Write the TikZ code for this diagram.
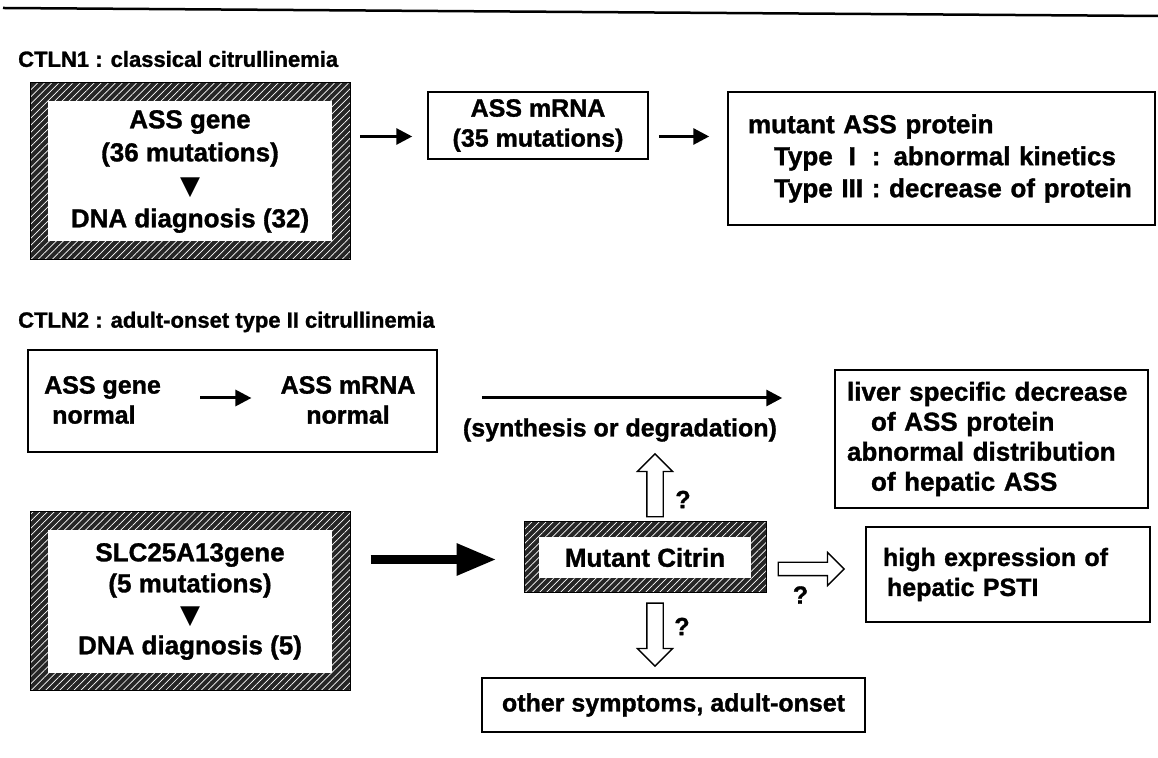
\documentclass[tikz,border=0pt]{standalone}
\usepackage{fontspec}
\setmainfont{Liberation Sans}[BoldFeatures={FakeBold=1.2}]
\newfontfamily\symfont{DejaVu Sans}
\usetikzlibrary{arrows.meta,calc,patterns.meta,shapes.arrows,positioning}

\newcommand{\bigtxt}{\bfseries\fontsize{26}{33}\selectfont}
\newcommand{\midtxt}{\bfseries\fontsize{25}{30}\selectfont}

\tikzset{
  txt/.style={font=\midtxt, inner sep=0pt},
  ttl/.style={font=\bfseries\fontsize{22}{26}\selectfont, inner sep=0pt, anchor=west},
  plainbox/.style={draw, line width=1.5pt, font=\midtxt},
  hatchframe/.style={draw=black, line width=1pt, inner sep=0pt,
    preaction={fill=black!85},
    pattern={Lines[angle=45,distance=5pt,line width=0.7pt]}, pattern color=white},
  innerbox/.style={fill=white, inner sep=0pt, align=center, font=\bigtxt},
  arr/.style={line width=3pt, -{Triangle[length=16pt,width=16pt]}},
  fatarr/.style={line width=9pt, -{Triangle[length=40pt,width=30pt]}},
  hollow/.style={single arrow, draw, line width=1.3pt, fill=white, inner sep=7.5pt,
    single arrow head extend=9.5pt, minimum height=63pt},
  qmark/.style={font=\midtxt, inner sep=0pt}
}

\begin{document}
\begin{tikzpicture}[x=1pt,y=1pt]
\useasboundingbox (0,0) rectangle (1158,757);
% rule at the top
\draw[line width=2.5pt] (3,749) -- (1158,741);

% CTLN1
\node[ttl] (t1) at (18,698) {CTLN1 : classical citrullinemia};
\node[hatchframe, minimum width=320pt, minimum height=177pt] (g1f) at (190,585.5) {};
\node[innerbox, minimum width=284pt, minimum height=140pt] (g1) at (g1f)
  {ASS gene\\(36 mutations)\\{\symfont\fontsize{26}{33}\selectfont ▼}\\DNA diagnosis (32)};
\node[plainbox, minimum width=220pt, minimum height=67pt, align=center] (m1) at (538,631.5)
  {ASS mRNA\\(35 mutations)};
\node[plainbox, font=\bigtxt, text width=387pt, inner xsep=20pt, minimum height=133pt, align=left] (p1) at (941.5,598.5)
  {mutant ASS protein\\[-1pt]\hspace*{26pt}Type \hphantom{I}I\hphantom{I} : abnormal kinetics\\[-1pt]\hspace*{26pt}Type III : decrease of protein};
\draw[arr] ($(g1f.east|-m1.west)+(10,-11)$) -- ($(m1.west)+(-15,-11)$);
\draw[arr] ($(m1.east)+(10,-11)$) -- ($(p1.west|-m1.west)+(-18,-11)$);

% CTLN2
\node[ttl] (t2) at (18,435) {CTLN2 : adult-onset type II citrullinemia};
\node[plainbox, minimum width=409pt, minimum height=102pt] (n2) at (232.5,356) {};
\node[txt, anchor=west, align=left] (gn) at (44,357) {ASS gene\\\hspace*{8pt}normal};
\node[txt, align=center] (mn) at (348,357) {ASS mRNA\\normal};
\draw[arr] ($(gn.east)+(39,2)$) -- ($(mn.west)+(-29,2)$);

\node[plainbox, font=\bigtxt, text width=289pt, inner xsep=12pt, minimum height=138pt, align=left] (lv) at (991.5,318)
  {liver specific decrease\\[-3pt]\hspace*{24pt}of ASS protein\\[-3pt]abnormal distribution\\[-3pt]\hspace*{24pt}of hepatic ASS};
\draw[arr] ($(n2.east)+(44,3)$) -- ($(lv.west|-n2.east)+(-52,3)$);
\node[txt, anchor=west] (syn) at ($(n2.east)+(25,-29)$) {(synthesis or degradation)};

\node[hatchframe, minimum width=320pt, minimum height=179pt] (g2f) at (190,155.5) {};
\node[innerbox, minimum width=284pt, minimum height=143pt] (g2) at (g2f)
  {SLC25A13gene\\[-2pt](5 mutations)\\[-2pt]{\symfont\fontsize{26}{33}\selectfont ▼}\\[-2pt]DNA diagnosis (5)};

\node[hatchframe, minimum width=242pt, minimum height=71pt] (cf) at (645,199.5) {};
\node[innerbox, minimum width=212pt, minimum height=41pt] (cit) at (cf) {Mutant Citrin};
\draw[fatarr] ($(g2f.east|-cf.west)+(20,-2)$) -- ($(cf.west)+(-27,-2)$);

\node[hollow, rotate=90, anchor=tail] (up) at ($(cf.north)+(10,4)$) {};
\node[qmark] (q1) at ($(cf.north)+(38,22)$) {?};
\node[hollow, anchor=tail, inner sep=6pt, minimum height=66pt, single arrow head extend=10pt] (rt) at ($(cf.east)+(11,-11.5)$) {};
\node[qmark] (q2) at ($(cf.east)+(34,-37.5)$) {?};
\node[hollow, rotate=-90, anchor=tail] (dn) at ($(cf.south)+(10,-9)$) {};
\node[qmark] (q3) at ($(cf.south)+(37,-33)$) {?};

\node[plainbox, text width=250pt, inner xsep=17pt, minimum height=95pt, align=left] (hi) at (1008,182.5)
  {high expression of\\\hspace*{4pt}hepatic PSTI};
\node[plainbox, minimum width=383pt, minimum height=54pt] (oth) at (673.5,52) {other symptoms, adult-onset};
\end{tikzpicture}
\end{document}
